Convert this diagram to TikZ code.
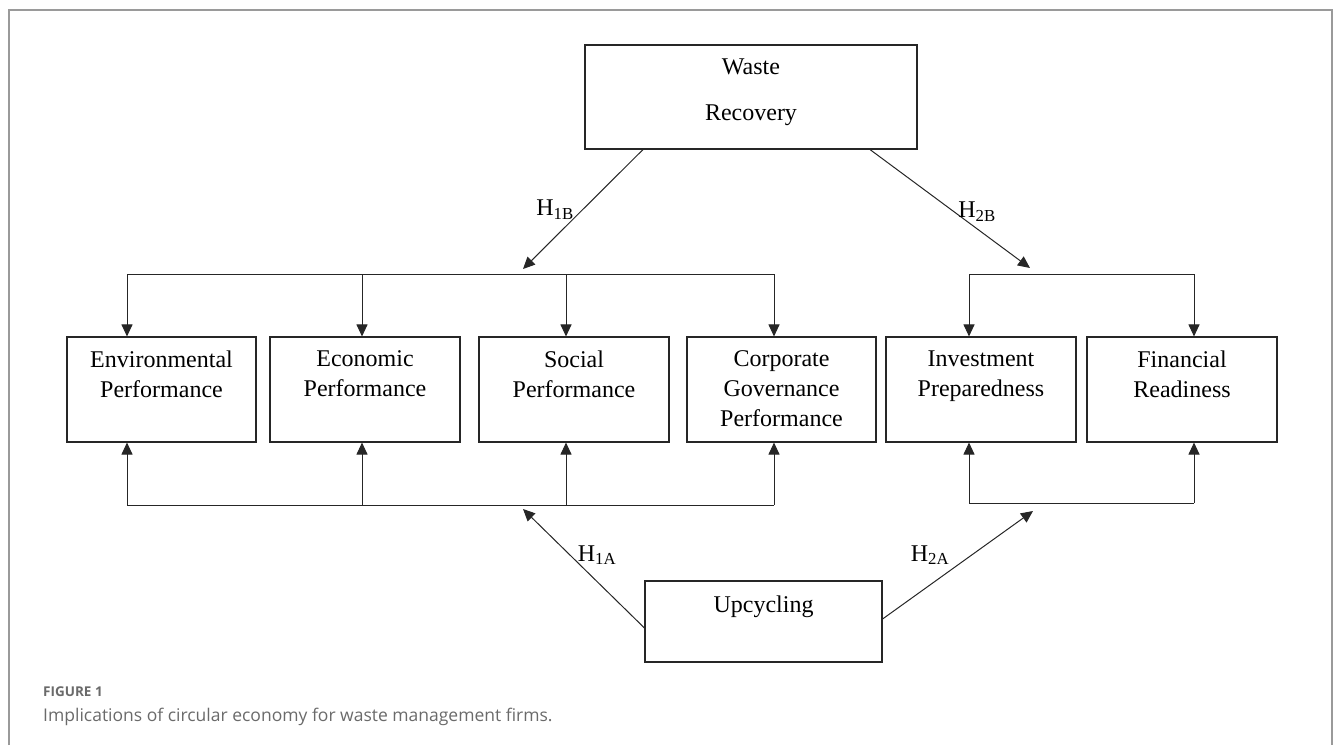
\documentclass[tikz,border=0pt]{standalone}
\usepackage{fontspec}
\setmainfont{Liberation Serif}
\newfontfamily\capfont{Open Sans}
\usetikzlibrary{arrows.meta,calc}
\definecolor{framegray}{HTML}{9A9A9A}
\definecolor{capgray}{HTML}{6A6A6A}
\begin{document}
\begin{tikzpicture}[x=1pt,y=-1pt,
  box/.style={draw=black!85,line width=1.1pt,rectangle,inner sep=0pt},
  boxtext/.style={anchor=base,align=center,inner sep=0pt,font=\fontsize{24}{30}\selectfont},
  mtext/.style={anchor=north,align=center,inner sep=0pt,font=\fontsize{24}{30}\selectfont},
  conn/.style={draw=black!85,line width=1pt},
  arr/.style={conn,-{Triangle[length=12pt,width=11pt]}},
  hlab/.style={inner sep=0pt,font=\fontsize{24}{28}\selectfont}]
\useasboundingbox (0,0) rectangle (1333,745);
% frame
\draw[framegray,line width=1.3pt] (9,745) -- (9,10) -- (1332,10) -- (1332,745);
% top box
\node[box,minimum width=332pt,minimum height=104pt] (wr) at (751,97) {};
\node[boxtext] (wrt1) at (751,74) {Waste};
\node[boxtext] (wrt2) at (751,120) {Recovery};
% six boxes
\node[box,minimum width=189pt,minimum height=105pt] (env) at (161.5,389.5) {};
\node[box,minimum width=190pt,minimum height=105pt] (eco) at (365,389.5) {};
\node[box,minimum width=190pt,minimum height=105pt] (soc) at (574,389.5) {};
\node[box,minimum width=189pt,minimum height=105pt] (cgp) at (781.5,389.5) {};
\node[box,minimum width=190pt,minimum height=105pt] (inv) at (981,389.5) {};
\node[box,minimum width=190pt,minimum height=105pt] (fin) at (1182,389.5) {};
\node[mtext] (envt) at (161.5,350.5) {Environmental\\Performance};
\node[mtext] (ecot) at (365,350.5) {Economic\\Performance};
\node[mtext] (soct) at (574,350.5) {Social\\Performance};
\node[mtext] (cgpt) at (781.5,350.5) {Corporate\\Governance\\Performance};
\node[mtext] (invt) at (981,350.5) {Investment\\Preparedness};
\node[mtext] (fint) at (1182,350.5) {Financial\\Readiness};
% bottom box
\node[box,minimum width=237pt,minimum height=81pt] (up) at (763.5,621.5) {};
\node[boxtext] (upt) at (763.5,612) {Upcycling};
% bus coordinates
\coordinate (tl) at (127,274);
\coordinate (tr) at (774,274);
\coordinate (t2) at (362,274);
\coordinate (t3) at (566,274);
\coordinate (rl) at (969,274);
\coordinate (rr) at (1194,274);
\coordinate (bl) at (127,505);
\coordinate (br) at (774,505);
\coordinate (b2) at (362,505);
\coordinate (b3) at (566,505);
\coordinate (sl) at (969,503);
\coordinate (sr) at (1194,503);
\coordinate (h1b) at (523,269);
\coordinate (h2b) at (1030,268);
\coordinate (h1a) at (523,509);
\coordinate (h2a) at (1033,511);
% buses
\draw[conn] (tl) -- (tr);
\draw[conn] (rl) -- (rr);
\draw[conn] (bl) -- (br);
\draw[conn] (sl) -- (sr);
% down arrows
\draw[arr] (tl) -- (tl |- env.north);
\draw[arr] (t2) -- (t2 |- eco.north);
\draw[arr] (t3) -- (t3 |- soc.north);
\draw[arr] (tr) -- (tr |- cgp.north);
\draw[arr] (rl) -- (rl |- inv.north);
\draw[arr] (rr) -- (rr |- fin.north);
% up arrows
\draw[arr] (bl) -- (bl |- env.south);
\draw[arr] (b2) -- (b2 |- eco.south);
\draw[arr] (b3) -- (b3 |- soc.south);
\draw[arr] (br) -- (br |- cgp.south);
\draw[arr] (sl) -- (sl |- inv.south);
\draw[arr] (sr) -- (sr |- fin.south);
% diagonal arrows
\draw[arr] ([xshift=-108pt]wr.south) -- (h1b);
\draw[arr] ([xshift=119pt]wr.south) -- (h2b);
\draw[arr] ([yshift=-6.5pt]up.west) -- (h1a);
\draw[arr] ([yshift=2.5pt]up.east) -- (h2a);
% labels
\node[hlab] (l1b) at (555,210) {H\textsubscript{1B}};
\node[hlab] (l2b) at (977,212) {H\textsubscript{2B}};
\node[hlab] (l1a) at (597,555) {H\textsubscript{1A}};
\node[hlab] (l2a) at (930,555) {H\textsubscript{2A}};
% caption
\node[anchor=base west,inner sep=0pt,text=capgray,font=\capfont\bfseries\fontsize{13.5}{16}\selectfont] (fig) at (43,696) {FIGURE 1};
\node[anchor=base west,inner sep=0pt,text=capgray,font=\capfont\fontsize{17.5}{21}\selectfont] (cap) at (43,721) {Implications of circular economy for waste management firms.};
\end{tikzpicture}
\end{document}
